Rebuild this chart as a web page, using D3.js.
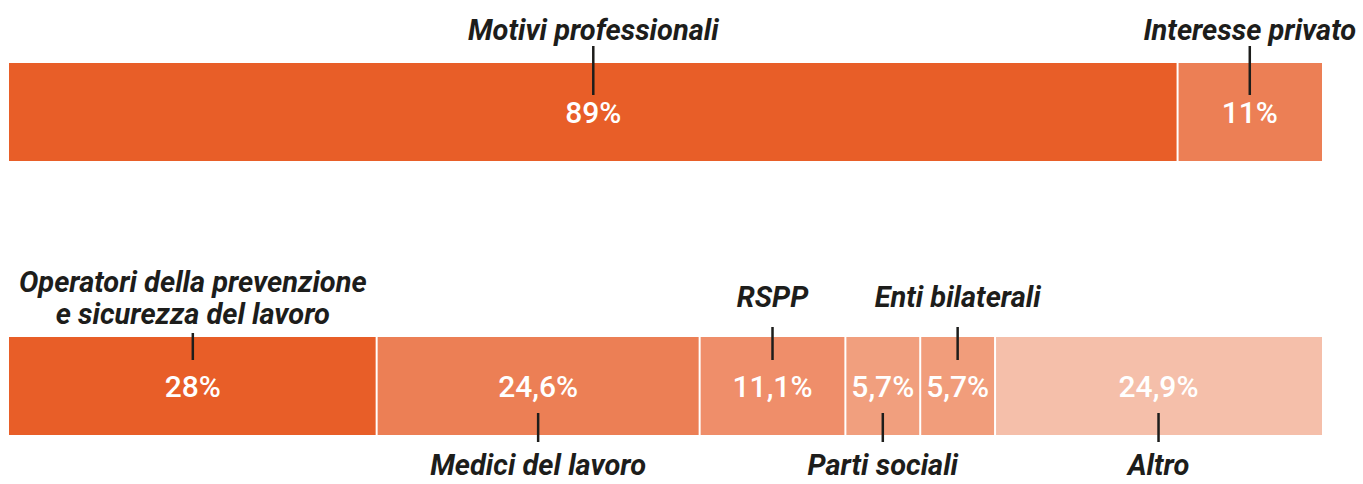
<!DOCTYPE html>
<html>
<head>
<meta charset="utf-8">
<script src="https://cdn.jsdelivr.net/npm/d3@7"></script>
<style>
  body { margin: 0; background: #fff; }
  svg { display: block; }
</style>
</head>
<body>
<div id="chart"></div>
<script>
// top bar: motivation
var topCategories = ["Motivi professionali", "Interesse privato"];
var topValues = [89, 11];
var topLabels = ["89%", "11%"];
var topColors = ["#e85e28", "#ec7f55"];

// bottom bar: professional role
var bottomCategories = [
  ["Operatori della prevenzione", "e sicurezza del lavoro"],
  ["Medici del lavoro"],
  ["RSPP"],
  ["Parti sociali"],
  ["Enti bilaterali"],
  ["Altro"]
];
var bottomValues = [28, 24.6, 11.1, 5.7, 5.7, 24.9];
var bottomLabels = ["28%", "24,6%", "11,1%", "5,7%", "5,7%", "24,9%"];
var bottomSides = ["above", "below", "above", "below", "above", "below"];
var bottomColors = ["#e85e28", "#ec7f55", "#ef8e6a", "#f19f7e", "#f19d7b", "#f5bfaa"];

var width = 1363, height = 484;

var svg = d3.select("#chart").append("svg")
    .attr("width", width)
    .attr("height", height);

var x = d3.scaleLinear()
    .domain([0, 100])
    .range([9, 1322]);

var barH = 98;
var lineH = 32;

function stack(values) {
  var acc = 0;
  return values.map(function(v) {
    var d = {start: acc, end: acc + v};
    acc += v;
    return d;
  });
}

function mid(d) { return x((d.start + d.end) / 2); }

function drawBar(top, values, labels, colors, cats, sides, opts) {
  var data = stack(values).map(function(d, i) {
    return {start: d.start, end: d.end, label: labels[i], color: colors[i],
            cat: cats[i], side: sides[i]};
  });
  var n = data.length;
  var g = svg.append("g");

  g.selectAll("rect")
    .data(data)
    .enter().append("rect")
      .attr("x", function(d, i) { return x(d.start) + (i > 0 ? 1 : 0); })
      .attr("y", top)
      .attr("width", function(d, i) {
        return x(d.end) - x(d.start) - (i > 0 ? 1 : 0) - (i < n - 1 ? 1 : 0);
      })
      .attr("height", barH)
      .attr("fill", function(d) { return d.color; });

  g.selectAll(".val")
    .data(data)
    .enter().append("text")
      .attr("class", "val")
      .attr("x", mid)
      .attr("y", top + barH / 2 + 11)
      .attr("text-anchor", "middle")
      .attr("fill", "#fff")
      .attr("font-family", "Roboto")
      .attr("font-weight", 500)
      .attr("font-size", 30)
      .text(function(d) { return d.label; });

  // leader lines
  g.selectAll(".lead")
    .data(data)
    .enter().append("line")
      .attr("class", "lead")
      .attr("x1", mid)
      .attr("x2", mid)
      .attr("y1", function(d) {
        if (d.side == "below") return top + barH - 22;
        return d.cat.length > 1 ? top - 4 : top - opts.above;
      })
      .attr("y2", function(d) { return d.side == "above" ? top + opts.inside : top + barH + 7; })
      .attr("stroke", "#1d1d1b")
      .attr("stroke-width", 2.5);

  var catText = g.selectAll(".cat")
    .data(data)
    .enter().append("text")
      .attr("class", "cat")
      .attr("x", mid)
      .attr("y", function(d) {
        if (d.side == "below") return top + barH + 40;
        return d.cat.length > 1
          ? top - 13 - (d.cat.length - 1) * lineH
          : top - opts.labelGap;
      })
      .attr("text-anchor", "middle")
      .attr("fill", "#1d1d1b")
      .attr("font-family", "Roboto")
      .attr("font-style", "italic")
      .attr("font-weight", 700)
      .attr("font-size", 29);

  catText.selectAll("tspan")
    .data(function(d) { return d.cat.map(function(t) { return {t: t, x: mid(d)}; }); })
    .enter().append("tspan")
      .attr("x", function(d) { return d.x; })
      .attr("dy", function(d, i) { return i == 0 ? 0 : lineH; })
      .text(function(d) { return d.t; });
}

drawBar(63, topValues, topLabels, topColors,
  topCategories.map(function(c) { return [c]; }),
  ["above", "above"], {above: 17, inside: 32, labelGap: 23});

drawBar(337, bottomValues, bottomLabels, bottomColors,
  bottomCategories, bottomSides, {above: 10, inside: 23, labelGap: 30});
</script>
</body>
</html>
